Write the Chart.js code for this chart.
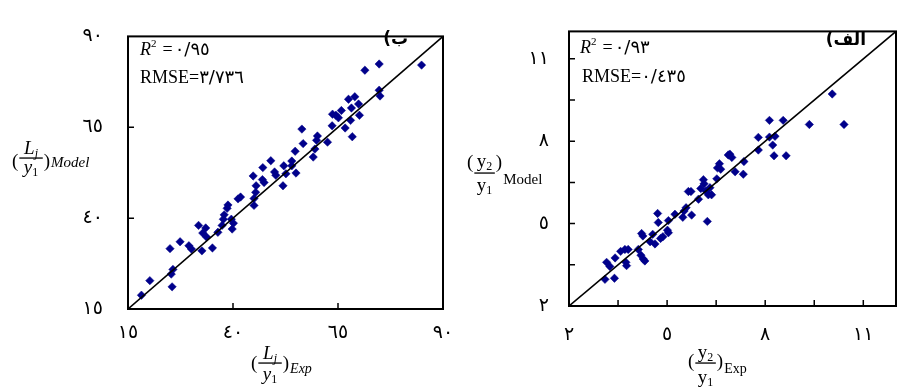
<!DOCTYPE html>
<html>
<head>
<meta charset="utf-8">
<script src="https://cdn.jsdelivr.net/npm/chart.js@4.4.0/dist/chart.umd.min.js"></script>
<style>
html, body { margin: 0; padding: 0; background: #fff; overflow: hidden; }
#wrap { position: relative; width: 897px; height: 390px; overflow: hidden; }
#wrap canvas { position: absolute; top: 0; }
</style>
</head>
<body>
<div id="wrap">
  <canvas id="chartB" width="470" height="390" style="left:0"></canvas>
  <canvas id="chartA" width="470" height="390" style="left:450px"></canvas>
</div>
<script>
// (ب) left plot: L_j / y1
var leftExp   = [18.2, 20.2, 25.5, 25.3, 25.7, 25.0, 27.4, 29.5, 30.1, 31.8, 32.6, 32.8, 33.5, 33.7, 35.1, 36.4, 37.4,
                 37.7, 37.9, 38.6, 38.8, 39.8, 40.1, 39.6, 41.2, 41.8, 45.0, 45.0, 45.4, 45.5, 44.8, 47.0, 47.4, 47.1,
                 49.0, 49.9, 50.2, 51.9, 52.1, 52.6, 55.0, 54.0, 54.0, 54.8, 56.7, 56.4, 59.1, 59.5, 59.9, 60.1, 62.5,
                 63.6, 63.7, 64.5, 65.1, 65.8, 66.7, 67.5, 69.0, 68.2, 68.0, 68.4, 70.1, 69.9, 71.4, 74.8, 74.8, 75.0, 84.9];
var leftModel = [18.8, 22.8, 21.1, 24.6, 25.9, 31.6, 33.5, 32.4, 31.5, 38.0, 31.0, 35.9, 37.3, 34.8, 31.8, 36.1, 38.0,
                 39.7, 40.9, 42.7, 43.6, 37.0, 38.6, 39.7, 45.3, 45.8, 43.5, 45.4, 47.1, 48.9, 51.6, 50.6, 49.8, 53.9,
                 55.8, 52.7, 51.8, 48.9, 54.4, 52.2, 52.4, 55.7, 54.4, 58.4, 60.5, 64.5, 56.8, 59.0, 61.4, 62.6, 60.9,
                 65.4, 68.6, 68.3, 67.6, 69.6, 64.8, 72.7, 73.4, 70.3, 66.9, 62.4, 68.3, 71.4, 80.7, 82.4, 75.2, 73.6, 82.1];
var leftRange = [15, 90];
var leftTicks = [15, 40, 65, 90];
var leftTickLabels = ['١٥', '٤٠', '٦٥', '٩٠'];

// (الف) right plot: y2 / y1
var rightExp   = [3.10, 3.39, 3.15, 3.25, 3.41, 3.58, 3.71, 3.81, 3.74, 3.76, 4.12, 4.20, 4.27, 4.32, 4.22, 4.26, 4.48,
                  4.56, 4.63, 4.73, 4.71, 4.80, 4.87, 5.01, 5.04, 5.04, 5.24, 5.48, 5.52, 5.75, 5.58, 5.65, 5.73, 5.96,
                  6.03, 6.11, 6.23, 6.36, 6.52, 6.13, 6.19, 6.31, 6.26, 6.54, 6.60, 6.64, 6.87, 6.92, 6.98, 7.08, 7.33,
                  7.35, 7.79, 7.79, 8.13, 8.13, 8.30, 8.23, 8.27, 8.55, 8.64, 9.35, 10.05, 10.41];
var rightModel = [2.97, 3.01, 3.59, 3.44, 3.75, 3.99, 4.06, 4.06, 3.59, 3.47, 4.06, 3.85, 3.71, 3.64, 4.64, 4.55, 4.34,
                  4.61, 4.26, 5.04, 5.37, 4.46, 4.52, 4.76, 4.67, 5.11, 5.34, 5.23, 5.46, 5.31, 5.58, 6.17, 6.17, 5.89,
                  6.28, 6.60, 5.08, 6.05, 6.63, 6.45, 6.19, 6.31, 6.05, 7.03, 7.18, 6.98, 7.50, 7.53, 7.41, 6.89, 6.80,
                  7.26, 8.14, 7.68, 8.76, 8.15, 8.18, 7.86, 7.47, 8.76, 7.47, 8.61, 9.72, 8.61];
var rightRange = [2, 12];
var rightTicks = [2, 3.5, 5, 6.5, 8, 9.5, 11];
var rightTickLabels = ['٢', '', '٥', '', '٨', '', '١١'];

var SERIF = "'Liberation Serif', 'Times New Roman', serif";
var ARAB = "'DejaVu Sans'";

function pairs(xs, ys) {
    return xs.map(function (x, i) { return {x: x, y: ys[i]}; });
}

function runText(ctx, x, y, parts) {
    parts.forEach(function (p) {
        ctx.font = p[1];
        ctx.fillText(p[0], x, y + (p[2] || 0));
        x += ctx.measureText(p[0]).width + (p[3] || 0);
    });
    return x;
}

function partsWidth(ctx, parts) {
    var w = 0;
    parts.forEach(function (p) { ctx.font = p[1]; w += ctx.measureText(p[0]).width + (p[3] || 0); });
    return w;
}

function drawFraction(ctx, x, barY, f) {
    ctx.font = f.paren;
    ctx.fillText('(', x, barY + f.parenDy);
    x += ctx.measureText('(').width + 1;
    var wn = partsWidth(ctx, f.num), wd = partsWidth(ctx, f.den), w = Math.max(wn, wd) + f.pad;
    runText(ctx, x + (w - wn) / 2, barY + f.numDy, f.num);
    runText(ctx, x + (w - wd) / 2, barY + f.denDy, f.den);
    ctx.fillRect(x, barY - 0.6, w, 1.3);
    x += w + 1;
    ctx.font = f.paren;
    ctx.fillText(')', x, barY + f.parenDy);
    x += ctx.measureText(')').width + 1;
    runText(ctx, x, barY + f.tailDy, f.tail);
}

// box around the plot plus short inward tick marks
var framePlugin = {
    id: 'frame',
    afterDatasetsDraw: function (chart) {
        var ctx = chart.ctx, a = chart.chartArea, sx = chart.scales.x, sy = chart.scales.y;
        ctx.save();
        ctx.strokeStyle = '#000';
        ctx.lineWidth = 2;
        ctx.strokeRect(a.left, a.top, a.right - a.left, a.bottom - a.top);
        ctx.lineWidth = 1.5;
        ctx.beginPath();
        sx.ticks.forEach(function (t) {
            var px = sx.getPixelForValue(t.value);
            if (px > a.left + 2 && px < a.right - 2) { ctx.moveTo(px, a.bottom); ctx.lineTo(px, a.bottom - 6); }
        });
        sy.ticks.forEach(function (t) {
            var py = sy.getPixelForValue(t.value);
            if (py > a.top + 2 && py < a.bottom - 2) { ctx.moveTo(a.left, py); ctx.lineTo(a.left + 6, py); }
        });
        ctx.stroke();
        ctx.restore();
    }
};

function makeChart(id, exp, model, range, ticks, labels, pad, tickPad, notes) {
    var axis = function (tp) {
        return {
            type: 'linear', min: range[0], max: range[1],
            grid: {display: false, drawTicks: false},
            border: {display: false},
            afterBuildTicks: function (s) { s.ticks = ticks.map(function (v) { return {value: v}; }); },
            afterFit: function (s) { if (s.isHorizontal()) s.height = 40; else s.width = 60; },
            ticks: {
                padding: tp, autoSkip: false, maxRotation: 0, color: '#000',
                font: {family: ARAB, size: 19},
                callback: function (v, i) { return labels[i]; }
            }
        };
    };
    return new Chart(document.getElementById(id), {
        type: 'scatter',
        data: {
            datasets: [{
                type: 'line',
                data: [{x: range[0], y: range[0]}, {x: range[1], y: range[1]}],
                borderColor: '#000', borderWidth: 1.6, pointRadius: 0, order: 0
            }, {
                data: pairs(exp, model),
                pointStyle: 'rectRot', pointRadius: 4.2,
                backgroundColor: '#00008b', borderColor: '#00008b', borderWidth: 0.5, order: 1
            }]
        },
        options: {
            responsive: false, animation: false,
            layout: {padding: pad},
            plugins: {legend: {display: false}, tooltip: {enabled: false}},
            scales: {x: axis(tickPad[0]), y: axis(tickPad[1])}
        },
        plugins: [framePlugin, {id: 'notes', afterDraw: function (c) { c.ctx.save(); c.ctx.fillStyle = '#000'; notes(c.ctx); c.ctx.restore(); }}]
    });
}

makeChart('chartB', leftExp, leftModel, leftRange, leftTicks, leftTickLabels,
    {left: 68, right: 27, top: 19, bottom: 41}, [13, 25], function (ctx) {
        runText(ctx, 140, 55, [['R', 'italic 18px ' + SERIF], ['2', '11px ' + SERIF, -8, 6], ['=', '18px ' + SERIF, 0, 2], ['٠/٩٥', '18px ' + ARAB]]);
        runText(ctx, 140, 83, [['RMSE=', '18px ' + SERIF], ['٣/٧٣٦', '18px ' + ARAB]]);
        ctx.font = 'bold 17px ' + ARAB;
        ctx.direction = 'rtl';
        ctx.textAlign = 'right';
        ctx.fillText('ب)', 408, 44);
        ctx.direction = 'ltr';
        ctx.textAlign = 'left';
        drawFraction(ctx, 12, 158, {
            paren: '19px ' + SERIF, parenDy: 9, pad: 9,
            num: [['L', 'italic 19px ' + SERIF], ['j', 'italic 12px ' + SERIF, 3]], numDy: -4,
            den: [['y', 'italic 19px ' + SERIF], ['1', '12px ' + SERIF, 3]], denDy: 15,
            tail: [['Model', 'italic 15px ' + SERIF]], tailDy: 9
        });
        drawFraction(ctx, 251, 363, {
            paren: '19px ' + SERIF, parenDy: 6, pad: 9,
            num: [['L', 'italic 19px ' + SERIF], ['j', 'italic 12px ' + SERIF, 3]], numDy: -4,
            den: [['y', 'italic 19px ' + SERIF], ['1', '12px ' + SERIF, 3]], denDy: 17,
            tail: [['Exp', 'italic 14px ' + SERIF]], tailDy: 10
        });
    });

makeChart('chartA', rightExp, rightModel, rightRange, rightTicks, rightTickLabels,
    {left: 59, right: 24, top: 21, bottom: 44}, [18, 20], function (ctx) {
        runText(ctx, 130, 53, [['R', 'italic 18px ' + SERIF], ['2', '11px ' + SERIF, -8, 6], ['=', '18px ' + SERIF, 0, 2], ['٠/٩٣', '18px ' + ARAB]]);
        runText(ctx, 132, 82, [['RMSE=', '18px ' + SERIF], ['٠/٤٣٥', '18px ' + ARAB]]);
        ctx.font = 'bold 17px ' + ARAB;
        ctx.direction = 'rtl';
        ctx.textAlign = 'right';
        ctx.fillText('الف)', 416, 45);
        ctx.direction = 'ltr';
        ctx.textAlign = 'left';
        drawFraction(ctx, 17, 173, {
            paren: '19px ' + SERIF, parenDy: -5, pad: 5,
            num: [['y', '19px ' + SERIF], ['2', '12px ' + SERIF, 3]], numDy: -6,
            den: [['y', '19px ' + SERIF], ['1', '12px ' + SERIF, 3]], denDy: 18,
            tail: [['Model', '15px ' + SERIF]], tailDy: 11
        });
        drawFraction(ctx, 238, 363, {
            paren: '19px ' + SERIF, parenDy: 4, pad: 5,
            num: [['y', '19px ' + SERIF], ['2', '12px ' + SERIF, 3]], numDy: -5,
            den: [['y', '19px ' + SERIF], ['1', '12px ' + SERIF, 3]], denDy: 20,
            tail: [['Exp', '14px ' + SERIF]], tailDy: 10
        });
    });
</script>
</body>
</html>
